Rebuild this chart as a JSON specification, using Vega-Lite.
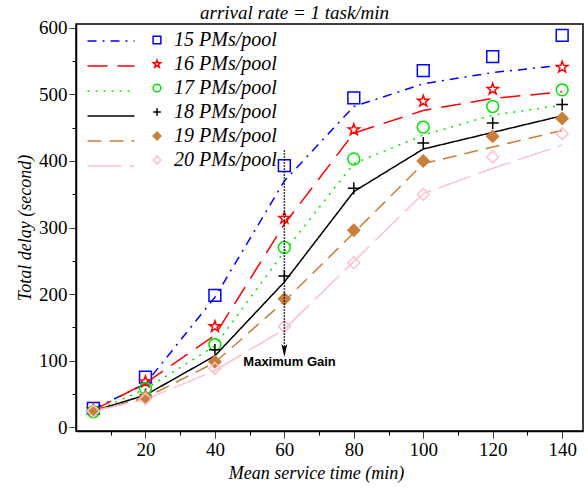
{
  "$schema": "https://vega.github.io/schema/vega-lite/v6.json",
  "width": 507,
  "height": 407,
  "autosize": {"type": "none"},
  "padding": {"left": 76, "top": 24, "right": 5, "bottom": 57},
  "background": "white",
  "config": {
    "view": {"stroke": "black", "strokeWidth": 1.5}
  },
  "title": {
    "text": "arrival rate = 1 task/min",
    "anchor": "start",
    "frame": "group",
    "dx": 124,
    "dy": 4,
    "offset": 0,
    "font": "Liberation Serif",
    "fontSize": 19,
    "fontStyle": "italic",
    "fontWeight": "normal",
    "color": "black"
  },
  "data": {
    "values": [
      {"time": 5, "pool": "15 PMs/pool", "measured": 28, "model": 27},
      {"time": 20, "pool": "15 PMs/pool", "measured": 75, "model": 65},
      {"time": 40, "pool": "15 PMs/pool", "measured": 198, "model": 195},
      {"time": 60, "pool": "15 PMs/pool", "measured": 393, "model": 370},
      {"time": 80, "pool": "15 PMs/pool", "measured": 495, "model": 482},
      {"time": 100, "pool": "15 PMs/pool", "measured": 536, "model": 516},
      {"time": 120, "pool": "15 PMs/pool", "measured": 557, "model": 533},
      {"time": 140, "pool": "15 PMs/pool", "measured": 589, "model": 544},
      {"time": 5, "pool": "16 PMs/pool", "measured": 26, "model": 25},
      {"time": 20, "pool": "16 PMs/pool", "measured": 68, "model": 66},
      {"time": 40, "pool": "16 PMs/pool", "measured": 151, "model": 138},
      {"time": 60, "pool": "16 PMs/pool", "measured": 314, "model": 305},
      {"time": 80, "pool": "16 PMs/pool", "measured": 447, "model": 442},
      {"time": 100, "pool": "16 PMs/pool", "measured": 490, "model": 476},
      {"time": 120, "pool": "16 PMs/pool", "measured": 508, "model": 494},
      {"time": 140, "pool": "16 PMs/pool", "measured": 541, "model": 504},
      {"time": 5, "pool": "17 PMs/pool", "measured": 23, "model": 23},
      {"time": 20, "pool": "17 PMs/pool", "measured": 58, "model": 57},
      {"time": 40, "pool": "17 PMs/pool", "measured": 124, "model": 122},
      {"time": 60, "pool": "17 PMs/pool", "measured": 270, "model": 264},
      {"time": 80, "pool": "17 PMs/pool", "measured": 403, "model": 396},
      {"time": 100, "pool": "17 PMs/pool", "measured": 451, "model": 439},
      {"time": 120, "pool": "17 PMs/pool", "measured": 482, "model": 469},
      {"time": 140, "pool": "17 PMs/pool", "measured": 507, "model": 484},
      {"time": 5, "pool": "18 PMs/pool", "measured": 25, "model": 24},
      {"time": 20, "pool": "18 PMs/pool", "measured": 48, "model": 48},
      {"time": 40, "pool": "18 PMs/pool", "measured": 116, "model": 107},
      {"time": 60, "pool": "18 PMs/pool", "measured": 227, "model": 218},
      {"time": 80, "pool": "18 PMs/pool", "measured": 359, "model": 354},
      {"time": 100, "pool": "18 PMs/pool", "measured": 427, "model": 418},
      {"time": 120, "pool": "18 PMs/pool", "measured": 457, "model": 443},
      {"time": 140, "pool": "18 PMs/pool", "measured": 485, "model": 468},
      {"time": 5, "pool": "19 PMs/pool", "measured": 24, "model": 24},
      {"time": 20, "pool": "19 PMs/pool", "measured": 45, "model": 44},
      {"time": 40, "pool": "19 PMs/pool", "measured": 98, "model": 97},
      {"time": 60, "pool": "19 PMs/pool", "measured": 193, "model": 189},
      {"time": 80, "pool": "19 PMs/pool", "measured": 296, "model": 292},
      {"time": 100, "pool": "19 PMs/pool", "measured": 400, "model": 396},
      {"time": 120, "pool": "19 PMs/pool", "measured": 437, "model": 421},
      {"time": 140, "pool": "19 PMs/pool", "measured": 464, "model": 446},
      {"time": 5, "pool": "20 PMs/pool", "measured": 24, "model": 24},
      {"time": 20, "pool": "20 PMs/pool", "measured": 42, "model": 41},
      {"time": 40, "pool": "20 PMs/pool", "measured": 88, "model": 85},
      {"time": 60, "pool": "20 PMs/pool", "measured": 151, "model": 147},
      {"time": 80, "pool": "20 PMs/pool", "measured": 247, "model": 249},
      {"time": 100, "pool": "20 PMs/pool", "measured": 350, "model": 351},
      {"time": 120, "pool": "20 PMs/pool", "measured": 406, "model": 389},
      {"time": 140, "pool": "20 PMs/pool", "measured": 441, "model": 424}
    ]
  },
  "encoding": {
    "x": {
      "field": "time",
      "type": "quantitative",
      "scale": {"domain": [0, 146], "nice": false, "zero": false},
      "axis": {
        "title": "Mean service time (min)",
        "values": [10, 20, 30, 40, 50, 60, 70, 80, 90, 100, 110, 120, 130, 140],
        "labelExpr": "datum.value % 20 === 0 ? datum.label : ''",
        "tickSize": 7,
        "tickDash": {"condition": {"test": "datum.value % 20 !== 0", "value": [4, 20]}, "value": [1, 0]},
        "grid": false,
        "domainColor": "black",
        "domainWidth": 1.5,
        "tickColor": "black",
        "tickWidth": 1,
        "labelFont": "Liberation Serif",
        "labelFontSize": 19,
        "labelColor": "black",
        "labelPadding": 2,
        "labelOverlap": false,
        "labelFlush": false,
        "titleFont": "Liberation Serif",
        "titleFontSize": 18,
        "titleFontStyle": "italic",
        "titleFontWeight": "normal",
        "titleColor": "black",
        "titlePadding": 5,
        "titleX": 240
      }
    },
    "y": {
      "field": "model",
      "type": "quantitative",
      "scale": {"domain": [-6, 606], "nice": false, "zero": false},
      "axis": {
        "title": "Total delay (second)",
        "values": [0, 50, 100, 150, 200, 250, 300, 350, 400, 450, 500, 550, 600],
        "labelExpr": "datum.value % 100 === 0 ? datum.label : ''",
        "tickSize": 7,
        "tickDash": {"condition": {"test": "datum.value % 100 !== 0", "value": [4, 20]}, "value": [1, 0]},
        "grid": false,
        "domainColor": "black",
        "domainWidth": 1.5,
        "tickColor": "black",
        "tickWidth": 1,
        "labelFont": "Liberation Serif",
        "labelFontSize": 19,
        "labelColor": "black",
        "labelPadding": 2,
        "labelOverlap": false,
        "labelFlush": false,
        "titleFont": "Liberation Serif",
        "titleFontSize": 18,
        "titleFontStyle": "italic",
        "titleFontWeight": "normal",
        "titleColor": "black",
        "titlePadding": 4
      }
    }
  },
  "layer": [
    {
      "mark": {"type": "line", "strokeWidth": 1.5},
      "encoding": {
        "color": {
          "field": "pool",
          "type": "nominal",
          "scale": {
            "domain": ["15 PMs/pool", "16 PMs/pool", "17 PMs/pool", "18 PMs/pool", "19 PMs/pool", "20 PMs/pool"],
            "range": ["#0000ff", "#ff0000", "#00e600", "#000000", "#c87f3a", "#ffc0cb"]
          },
          "legend": {
            "orient": "none", "legendX": 24, "legendY": 6, "title": null, "padding": 0,
            "symbolType": "M-2.35,0H2.35", "symbolSize": 400, "symbolStrokeWidth": 1.5,
            "labelExpr": "''", "labelFontSize": 20, "rowPadding": 4
          }
        },
        "strokeDash": {
          "field": "pool",
          "type": "nominal",
          "scale": {
            "domain": ["15 PMs/pool", "16 PMs/pool", "17 PMs/pool", "18 PMs/pool", "19 PMs/pool", "20 PMs/pool"],
            "range": [[9, 6, 2, 6], [20, 10], [2, 6], [1, 0], [14, 8], [34, 8]]
          },
          "legend": {
            "orient": "none", "legendX": 24, "legendY": 6, "title": null, "padding": 0,
            "symbolType": "M-2.35,0H2.35", "symbolSize": 400, "symbolStrokeWidth": 1.5,
            "labelExpr": "''", "labelFontSize": 20, "rowPadding": 4
          }
        }
      }
    },
    {
      "mark": {"type": "point", "size": 140, "strokeWidth": 1.5, "filled": false, "opacity": 1},
      "encoding": {
        "y": {"field": "measured", "type": "quantitative"},
        "stroke": {
          "field": "pool",
          "type": "nominal",
          "scale": {"range": ["#0000ff", "#ff0000", "#00e600", "#000000", "#c87f3a", "#ffc0cb"]},
          "legend": {
            "orient": "none", "legendX": 71, "legendY": 6, "title": null, "padding": 0,
            "symbolSize": 60, "symbolStrokeWidth": 1.5, "labelOffset": 7,
            "labelFont": "Liberation Serif", "labelFontStyle": "italic", "labelFontSize": 20,
            "labelColor": "black", "rowPadding": 4, "labelLimit": 300
          }
        },
        "fill": {
          "field": "pool",
          "type": "nominal",
          "scale": {"range": ["transparent", "transparent", "transparent", "transparent", "#c87f3a", "transparent"]},
          "legend": {
            "orient": "none", "legendX": 71, "legendY": 6, "title": null, "padding": 0,
            "symbolSize": 60, "symbolStrokeWidth": 1.5, "labelOffset": 7,
            "labelFont": "Liberation Serif", "labelFontStyle": "italic", "labelFontSize": 20,
            "labelColor": "black", "rowPadding": 4, "labelLimit": 300
          }
        },
        "shape": {
          "field": "pool",
          "type": "nominal",
          "scale": {
            "range": ["square", "M0,-1L0.235,-0.324L0.951,-0.309L0.38,0.124L0.588,0.809L0,0.4L-0.588,0.809L-0.38,0.124L-0.951,-0.309L-0.235,-0.324Z", "circle", "M-1,0H1M0,-1V1", "diamond", "diamond"]
          },
          "legend": {
            "orient": "none", "legendX": 71, "legendY": 6, "title": null, "padding": 0,
            "symbolSize": 60, "symbolStrokeWidth": 1.5, "labelOffset": 7,
            "labelFont": "Liberation Serif", "labelFontStyle": "italic", "labelFontSize": 20,
            "labelColor": "black", "rowPadding": 4, "labelLimit": 300
          }
        }
      }
    },
    {
      "data": {"values": [{"time": 60, "delay": 416, "end": 118}]},
      "mark": {"type": "rule", "color": "black", "strokeWidth": 1.5, "strokeDash": [1.5, 1.5]},
      "encoding": {
        "y": {"field": "delay", "type": "quantitative"},
        "y2": {"field": "end"}
      }
    },
    {
      "data": {"values": [{"time": 60, "delay": 115}]},
      "mark": {"type": "point", "shape": "M-0.45,-1L0,1L0.45,-1L0,-0.55Z", "size": 169, "filled": true, "color": "black", "opacity": 1},
      "encoding": {
        "y": {"field": "delay", "type": "quantitative"}
      }
    },
    {
      "data": {"values": [{"time": 61.5, "delay": 98, "label": "Maximum Gain"}]},
      "mark": {"type": "text", "font": "Liberation Sans", "fontWeight": "bold", "fontSize": 13, "color": "black", "align": "center", "baseline": "middle"},
      "encoding": {
        "y": {"field": "delay", "type": "quantitative"},
        "text": {"field": "label"}
      }
    }
  ]
}
